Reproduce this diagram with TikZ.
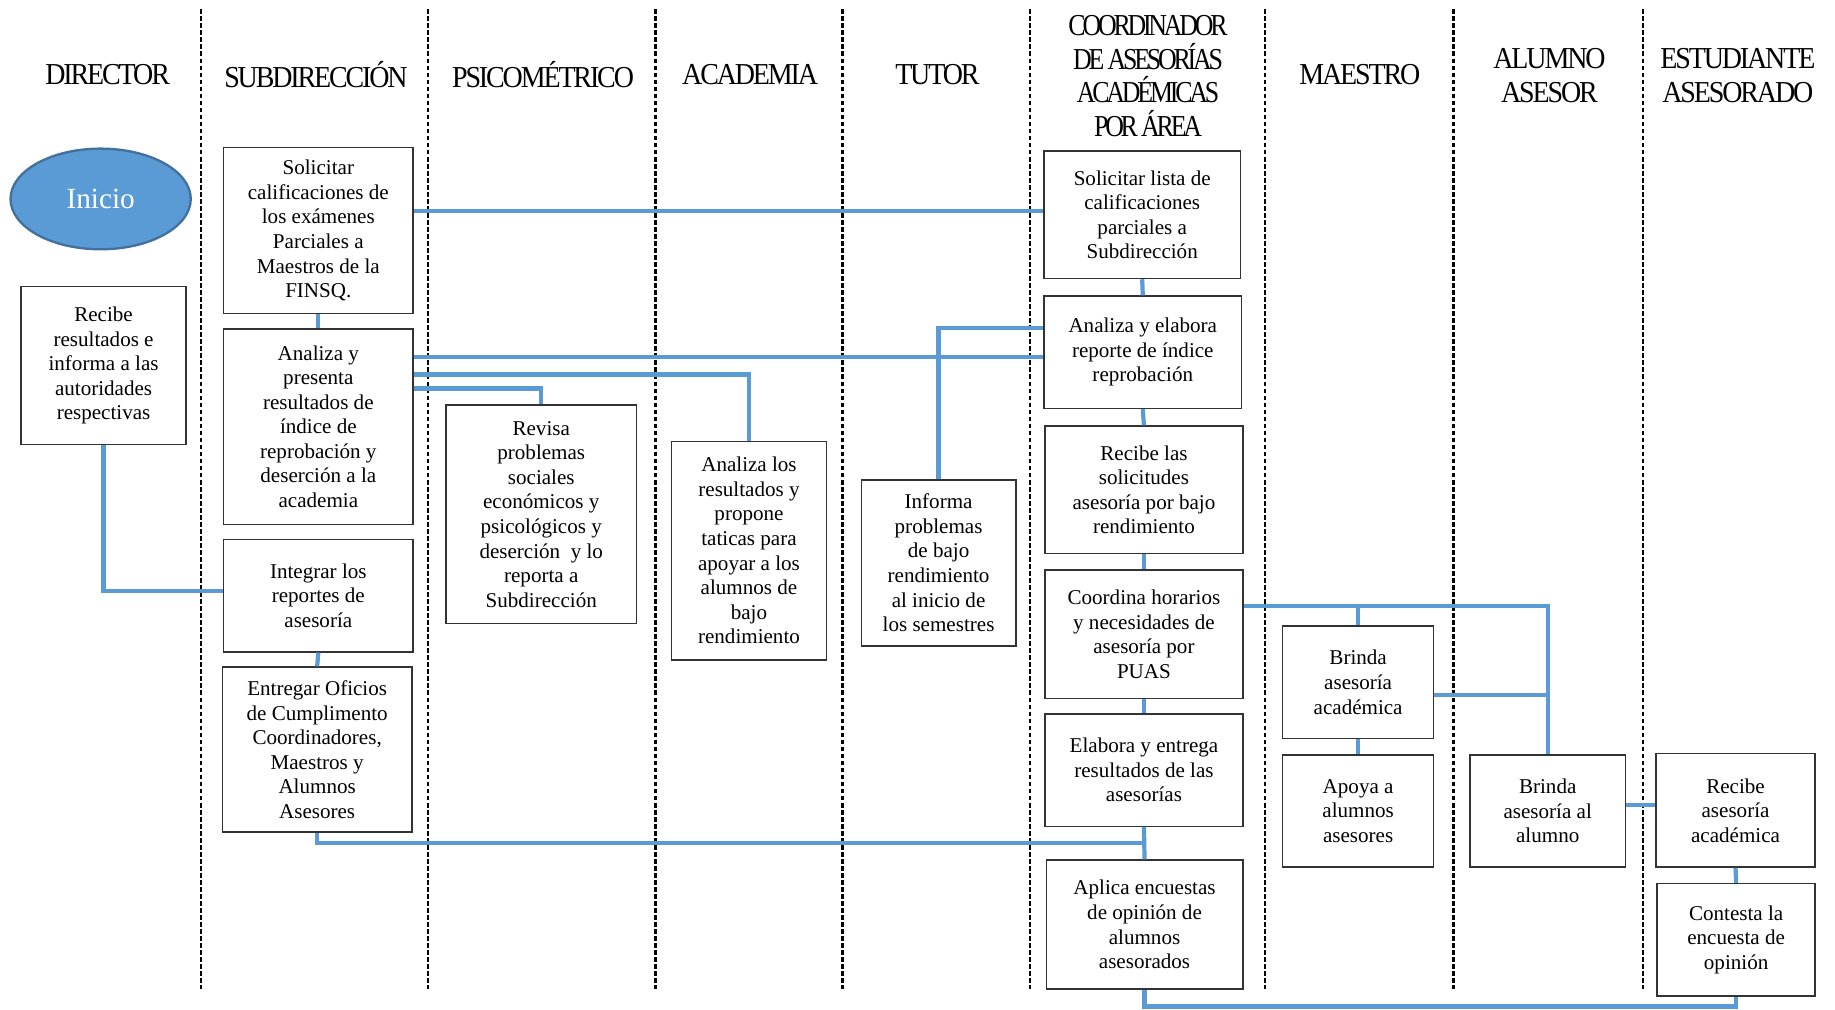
\documentclass[tikz,border=0pt]{standalone}
\usepackage{fontspec}
\setmainfont{Liberation Serif}
\newfontfamily\hdrfont[FakeStretch=0.92,LetterSpace=-7]{Liberation Serif}
\newfontfamily\hdrfontc[FakeStretch=0.85,LetterSpace=-10.5]{Liberation Serif}
\usetikzlibrary{shapes.geometric}
\definecolor{lnblue}{HTML}{5B9BD5}
\definecolor{ellborder}{HTML}{41719C}
\begin{document}
\begin{tikzpicture}[x=0.5pt,y=-0.5pt,
  bx/.style={draw=black!80, line width=0.6pt, inner sep=0pt, align=center, font=\fontsize{9}{10.5}\selectfont, text=black},
  hdr/.style={align=center, inner sep=0pt, font=\hdrfont\fontsize{13}{14.5}\selectfont},
  hdrc/.style={align=center, inner sep=0pt, font=\hdrfontc\fontsize{13}{14.5}\selectfont},
  ln/.style={draw=lnblue, line width=1.8pt},
  lane/.style={draw=black, line width=1pt, dash pattern=on 2pt off 1pt}]
\useasboundingbox (0,0) rectangle (1568,863);
% lanes
\foreach \xx in {172,366,560,720,880,1081,1242,1404}
  \draw[lane] (\xx,8) -- (\xx,845);
% headers
\node[hdr] (h1) at (92,64) {DIRECTOR};
\node[hdr] (h2) at (270,64) {SUBDIRECCIÓN};
\node[hdr] (h3) at (464,64) {PSICOMÉTRICO};
\node[hdr] (h4) at (641,64) {ACADEMIA};
\node[hdr] (h5) at (801,64) {TUTOR};
\node[hdrc] (h6) at (981,65) {COORDINADOR\\DE ASESORÍAS\\ACADÉMICAS\\POR ÁREA};
\node[hdr] (h7) at (1162,64) {MAESTRO};
\node[hdr] (h8) at (1324,64.5) {ALUMNO\\ASESOR};
\node[hdr] (h9) at (1485,64.5) {ESTUDIANTE\\ASESORADO};
% start
\node[ellipse, draw=ellborder, fill=lnblue, line width=1pt, minimum width=77pt, minimum height=43pt, text=white, font=\fontsize{12.5}{14}\selectfont] (inicio) at (86,170) {Inicio};
% boxes
\node[bx, minimum width=70.5pt, minimum height=67.5pt] (dirrec) at (88.5,312.5) {Recibe\\resultados e\\informa a las\\autoridades\\respectivas};
\node[bx, minimum width=81pt, minimum height=71pt] (subsol) at (272,197) {Solicitar\\calificaciones de\\los exámenes\\Parciales a\\Maestros de la\\FINSQ.};
\node[bx, minimum width=81pt, minimum height=83.5pt] (subana) at (272,364.5) {Analiza y\\presenta\\resultados de\\índice de\\reprobación y\\deserción a la\\academia};
\node[bx, minimum width=81pt, minimum height=48pt] (subint) at (272,509) {Integrar los\\reportes de\\asesoría};
\node[bx, minimum width=81pt, minimum height=70.5pt] (subent) at (271,640.5) {Entregar Oficios\\de Cumplimento\\Coordinadores,\\Maestros y\\Alumnos\\Asesores};
\node[bx, minimum width=81.5pt, minimum height=93.5pt] (psi) at (462.5,439.5) {Revisa\\problemas\\sociales\\económicos y\\psicológicos y\\deserción\ \ y lo\\reporta a\\Subdirección};
\node[bx, minimum width=66pt, minimum height=93.5pt] (aca) at (640,470.5) {Analiza los\\resultados y\\propone\\taticas para\\apoyar a los\\alumnos de\\bajo\\rendimiento};
\node[bx, minimum width=66pt, minimum height=71pt] (tut) at (802,481) {Informa\\problemas\\de bajo\\rendimiento\\al inicio de\\los semestres};
\node[bx, minimum width=84pt, minimum height=54.5pt] (c1) at (976,183.5) {Solicitar lista de\\calificaciones\\parciales a\\Subdirección};
\node[bx, minimum width=84.5pt, minimum height=48pt] (c2) at (976.5,301) {Analiza y elabora\\reporte de índice\\reprobación};
\node[bx, minimum width=84.5pt, minimum height=54.5pt] (c3) at (977.5,418.5) {Recibe las\\solicitudes\\asesoría por\ bajo\\rendimiento};
\node[bx, minimum width=84.5pt, minimum height=55pt] (c4) at (977.5,542) {Coordina horarios\\y necesidades de\\asesoría por\\PUAS};
\node[bx, minimum width=84.5pt, minimum height=48pt] (c5) at (977.5,658) {Elabora y entrega\\resultados de las\\asesorías};
\node[bx, minimum width=84pt, minimum height=55pt] (c6) at (978,790) {Aplica encuestas\\de opinión de\\alumnos\\asesorados};
\node[bx, minimum width=64.5pt, minimum height=48pt] (m1) at (1160.5,583) {Brinda\\asesoría\\académica};
\node[bx, minimum width=64.5pt, minimum height=48pt] (m2) at (1160.5,693) {Apoya a\\alumnos\\asesores};
\node[bx, minimum width=66.5pt, minimum height=48pt] (al) at (1322.5,693) {Brinda\\asesoría al\\alumno};
\node[bx, minimum width=68pt, minimum height=48.5pt] (e1) at (1483,692.5) {Recibe\\asesoría\\académica};
\node[bx, minimum width=67.5pt, minimum height=48pt] (e2) at (1483.5,803) {Contesta la\\encuesta de\\opinión};
% connectors
\draw[ln] (subsol.east |- 0,180) -- (c1.west |- 0,180);
\draw[ln] (subsol.south) -- (subana.north);
\draw[ln] (subana.east |- 0,305) -- (c2.west |- 0,305);
\draw[ln] (subana.east |- 0,320) -| (aca.north);
\draw[ln] (subana.east |- 0,332) -| (psi.north);
\draw[ln] (tut.north) |- (c2.west |- 0,280);
\draw[ln] (c1.south) -- (c2.north);
\draw[ln] (c2.south) -- (c3.north);
\draw[ln] (c3.south) -- (c4.north);
\draw[ln] (c4.south) -- (c5.north);
\draw[ln] (c5.south) -- (c6.north);
\draw[ln] (subent.south) |- (c5.south |- 0,720);
\draw[ln] (dirrec.south) |- (subint.west |- 0,505);
\draw[ln] (subint.south) -- (subent.north);
\draw[ln] (c4.east |- 0,518) -| (al.north);
\draw[ln] (m1.north) -- (m1.north |- 0,518);
\draw[ln] (m1.east |- 0,594) -- (al.north |- 0,594);
\draw[ln] (m1.south) -- (m2.north);
\draw[ln] (al.east |- 0,688) -- (e1.west |- 0,688);
\draw[ln] (e1.south) -- (e2.north);
\draw[ln] (c6.south) -- (c6.south |- 0,860) -| (e2.south);
\end{tikzpicture}
\end{document}
